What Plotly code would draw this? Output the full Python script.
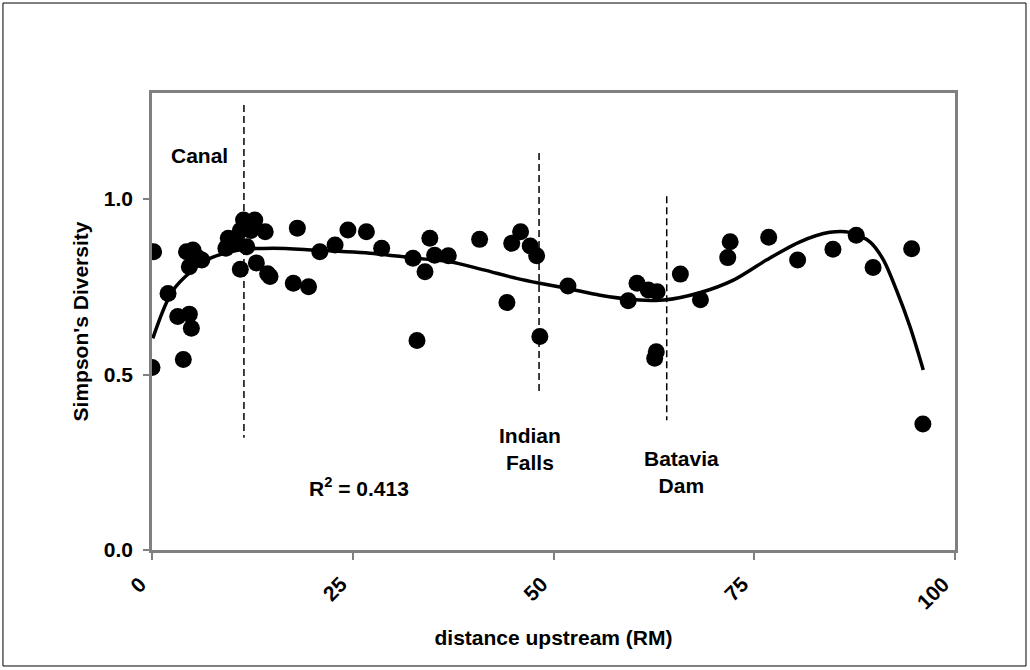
import plotly.graph_objects as go

# ---- data ----
dist = [0.2, 0.0, 3.9, 2.0, 3.2, 4.65, 4.9, 4.3, 5.1, 4.65, 6.2, 5.6,
        9.5, 9.2, 11.0, 11.4, 12.8, 11.8, 13.0, 14.1, 14.7, 14.4, 11.0, 12.3, 10.6,
        17.6, 19.5, 18.1, 20.9, 22.8, 24.4, 26.7, 28.6, 32.5, 33.0, 34.6, 34.0,
        35.2, 36.9, 40.8, 44.2, 44.8, 45.9, 47.1, 47.9, 48.3, 51.8, 59.3, 60.4,
        61.8, 62.9, 62.8, 62.6, 65.8, 68.3, 71.7, 72.0, 76.8, 80.4, 84.8, 87.7,
        89.8, 94.6, 96.0]
simpson = [0.85, 0.52, 0.543, 0.731, 0.665, 0.672, 0.632, 0.85, 0.855, 0.807, 0.826, 0.835,
           0.888, 0.86, 0.80, 0.94, 0.94, 0.864, 0.818, 0.907, 0.779, 0.787, 0.91, 0.91, 0.874,
           0.76, 0.75, 0.917, 0.85, 0.869, 0.912, 0.907, 0.86, 0.831, 0.597, 0.888, 0.793,
           0.84, 0.838, 0.885, 0.705, 0.874, 0.907, 0.866, 0.838, 0.608, 0.752, 0.71, 0.76,
           0.741, 0.736, 0.565, 0.546, 0.786, 0.713, 0.833, 0.878, 0.891, 0.826, 0.857, 0.897,
           0.805, 0.858, 0.359]

# polynomial trend line (R^2 = 0.413)
trend_x = [0.1, 2.65, 6.8, 11.0, 15.1, 20.1, 27.6, 32.5, 37.1, 41.3, 45.4, 48.3,
           51.8, 55.8, 59.9, 63.7, 68.2, 72.4, 76.5, 80.7, 84.4, 86.9, 89.4, 91.1,
           92.7, 94.4, 96.05]
trend_y = [0.603, 0.741, 0.826, 0.855, 0.86, 0.855, 0.845, 0.832, 0.821, 0.798, 0.774, 0.76,
           0.745, 0.726, 0.714, 0.712, 0.733, 0.769, 0.826, 0.878, 0.905, 0.905, 0.878, 0.826,
           0.741, 0.636, 0.513]

# barrier markers: (x, y_top, y_bottom)
barrier_names = ["Canal", "Indian Falls", "Batavia Dam"]
barrier_x = [11.45, 48.2, 64.1]
barrier_top = [1.268, 1.131, 1.008]
barrier_bottom = [0.32, 0.451, 0.37]

x_ticks = [0, 25, 50, 75, 100]
y_ticks = [0.0, 0.5, 1.0]

FONT = "Liberation Sans, Arial, sans-serif"
FS = 21

fig = go.Figure()

for name, bx, bt, bb in zip(barrier_names, barrier_x, barrier_top, barrier_bottom):
    fig.add_trace(go.Scatter(
        x=[bx, bx], y=[bt, bb], mode="lines", name=name,
        line=dict(color="black", width=1.5, dash="7px,4px"),
        showlegend=False, hoverinfo="skip"))

fig.add_trace(go.Scatter(
    x=dist, y=simpson, mode="markers", name="sites",
    marker=dict(color="black", size=17, line=dict(width=0)),
    showlegend=False))

fig.add_trace(go.Scatter(
    x=trend_x, y=trend_y, mode="lines", name="trend",
    line=dict(color="black", width=3.5, shape="spline", smoothing=0.8),
    showlegend=False, hoverinfo="skip"))

ann_font = dict(family=FONT, size=FS, color="black", weight="bold")
fig.add_annotation(x=5.9, y=1.125, text="Canal", showarrow=False, font=ann_font)
fig.add_annotation(x=47.1, y=0.288, text="Indian<br>Falls", showarrow=False, font=ann_font)
fig.add_annotation(x=65.9, y=0.221, text="Batavia<br>Dam", showarrow=False, font=ann_font)
fig.add_annotation(x=25.8, y=0.179, text="R<sup>2</sup> = 0.413", showarrow=False, font=ann_font)

# outer chart border
fig.add_shape(type="rect", xref="paper", yref="paper",
              x0=-0.1856, x1=1.0884, y0=-0.2538, y1=1.1969,
              line=dict(color="black", width=1), fillcolor="rgba(0,0,0,0)")

fig.update_layout(
    width=1030, height=670,
    margin=dict(l=152, r=75, t=93, b=120),
    paper_bgcolor="white", plot_bgcolor="white",
    font=dict(family=FONT, size=FS, color="black", weight="bold"),
    xaxis=dict(
        range=[0, 100], tickvals=x_ticks, ticktext=[str(v) for v in x_ticks],
        tickangle=-45, ticks="outside", ticklen=7, tickcolor="#808080", tickwidth=2,
        showline=True, linecolor="#808080", linewidth=2.5, mirror=True,
        showgrid=False, zeroline=False,
        ticklabelshift=-12, ticklabelstandoff=4,
        tickfont=dict(family=FONT, size=FS, color="black", weight="bold"),
        title=dict(text="distance upstream (RM)", standoff=18,
                   font=dict(family=FONT, size=FS, color="black", weight="bold")),
        automargin=False),
    yaxis=dict(
        range=[0, 1.302], tickvals=y_ticks, tickformat=".1f",
        ticks="outside", ticklen=6, tickcolor="#808080", tickwidth=2,
        showline=True, linecolor="#808080", linewidth=2.5, mirror=True,
        showgrid=False, zeroline=False, ticklabelstandoff=6,
        tickfont=dict(family=FONT, size=FS, color="black", weight="bold"),
        title=dict(text="Simpson's Diversity", standoff=10,
                   font=dict(family=FONT, size=FS, color="black", weight="bold")),
        automargin=False),
)

fig.write_html("out.html")
